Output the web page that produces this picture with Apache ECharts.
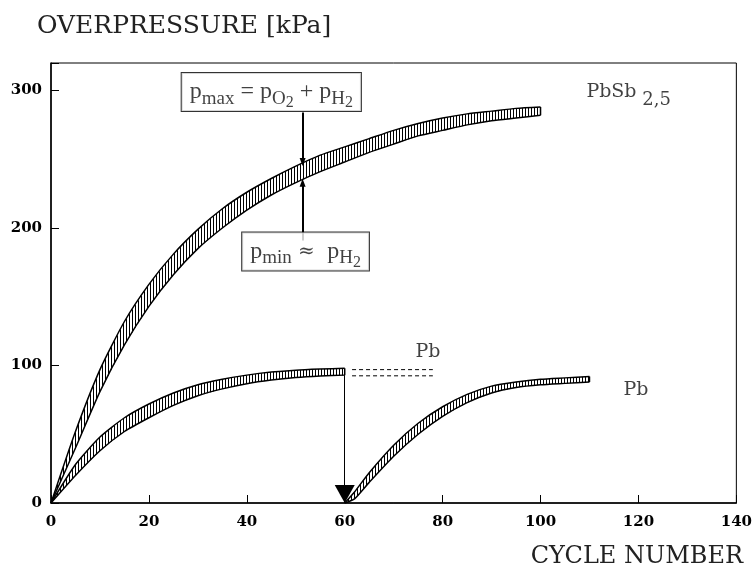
<!DOCTYPE html>
<html>
<head>
<meta charset="utf-8">
<script src="https://cdn.jsdelivr.net/npm/echarts@6/dist/echarts.min.js"></script>
<style>html,body{margin:0;padding:0;background:#fff}#c{width:755px;height:571px}</style>
</head>
<body>
<div id="c"></div>
<script>
// ---- data ----
const xTicks = [0, 20, 40, 60, 80, 100, 120, 140];
const yTicks = [0, 100, 200, 300];
// PbSb 2,5 band (pmax upper, pmin lower)
const sbX     = [0, 5, 10, 15, 20, 25, 30, 35, 40, 45, 50, 55, 60, 65, 70, 75, 80, 85, 90, 95, 100];
const sbUpper = [0, 52, 97, 132, 159, 181, 199, 214, 226, 236, 245, 253, 259, 265, 271, 276, 280, 283, 285, 287, 288];
const sbLower = [0, 40, 81, 115, 143, 166, 185, 200, 213, 224, 233, 241, 248, 255, 261, 267, 271, 275, 278, 280, 282];
// Pb first band
const pb1X     = [0, 5, 10, 15, 20, 25, 30, 35, 40, 45, 50, 55, 60];
const pb1Upper = [0, 28, 48, 62, 72, 80, 86, 90, 93, 95.2, 96.6, 97.4, 98];
const pb1Lower = [0, 20, 38, 52, 62, 71, 78, 83, 86.8, 89.4, 91.2, 92.3, 93];
// Pb second band (after restart at cycle 60)
const pb2X     = [60, 62, 65, 70, 75, 80, 85, 90, 95, 100, 105, 110];
const pb2Upper = [0, 8, 22, 42, 58, 70, 79, 85, 88, 90, 91, 92];
const pb2Lower = [0, 3, 15, 34, 50, 63, 73, 80, 84, 86, 87, 88];
// dashed continuation of Pb
const dashX = [61.5, 78];
const dashY = [97, 92.5];
// text annotation anchors (data coordinates)
const labelPbSb = [118, 299];
const labelPbTop = [77, 110];
const labelPbRight = [119.5, 82];
const boxMax = [45, 299];
const boxMin = [52, 183];
const arrowX = 51.4;
const arrowMax = [284, 248];
const arrowMin = [191, 233];
const dropArrow = [93, 6.5];

// ---- pattern ----
const pc = document.createElement('canvas');
pc.width = 3; pc.height = 3;
const pctx = pc.getContext('2d');
pctx.fillStyle = '#fff'; pctx.fillRect(0, 0, 3, 3);
pctx.fillStyle = '#000'; pctx.fillRect(0, 0, 1, 3);
const hatch = { image: pc, repeat: 'repeat' };

function band(xs, lower, upper) {
  return [
    { type: 'custom', z: 2, data: [[xs[0], lower[0]]], silent: true,
      renderItem: (params, api) => {
        const top = xs.map((x, i) => api.coord([x, upper[i]]));
        const bot = xs.map((x, i) => api.coord([x, lower[i]])).reverse();
        return { type: 'polygon', shape: { points: top.concat(bot) }, style: { fill: hatch, stroke: null } };
      } },
    { type: 'line', smooth: 0.2, symbol: 'none', z: 3,
      data: xs.map((x, i) => [x, lower[i]]), lineStyle: { color: '#000', width: 1.5 } },
    { type: 'line', smooth: 0.2, symbol: 'none', z: 3,
      data: xs.map((x, i) => [x, upper[i]]), lineStyle: { color: '#000', width: 1.5 } },
    { type: 'line', symbol: 'none', z: 3,
      data: [[xs[xs.length - 1], lower[xs.length - 1]], [xs[xs.length - 1], upper[xs.length - 1]]],
      lineStyle: { color: '#000', width: 1.5 } }
  ];
}

const serif = 'DejaVu Serif';
const serif2 = 'Liberation Serif';
function textPoint(pos, text, rich, extra) {
  return {
    value: pos,
    label: Object.assign({ show: true, position: 'inside', formatter: text, color: '#111',
      fontFamily: serif, fontSize: 19, rich: rich }, extra || {})
  };
}
const richBox = {
  b: { fontFamily: serif2, fontSize: 24, color: '#111', lineHeight: 30 },
  e: { fontFamily: serif, fontSize: 20, color: '#111', lineHeight: 30 },
  s: { fontFamily: serif2, fontSize: 19, color: '#111', padding: [14, 0, 0, 0], lineHeight: 30 },
  s2: { fontFamily: serif2, fontSize: 16, color: '#111', padding: [22, 0, 0, 0], lineHeight: 30 }
};
const richSmall = {
  b: { fontFamily: serif, fontSize: 19, color: '#111', lineHeight: 22 },
  s: { fontFamily: serif, fontSize: 18, color: '#111', padding: [16, 0, 0, 0], lineHeight: 22 }
};
const boxStyle = { backgroundColor: '#fff', borderColor: '#000', borderWidth: 1, padding: [4, 8, 4, 8] };

const chart = echarts.init(document.getElementById('c'));
chart.setOption({
  animation: false,
  backgroundColor: '#fff',
  title: [
    { text: 'OVERPRESSURE [kPa]', left: 32, top: 9,
      textStyle: { fontFamily: serif, fontWeight: 'normal', fontSize: 25, color: '#222' } },
    { text: 'CYCLE NUMBER', right: 7, top: 540,
      textStyle: { fontFamily: serif, fontWeight: 'normal', fontSize: 24, color: '#222' } }
  ],
  grid: { left: 51, right: 17, top: 63, bottom: 68, show: true, borderColor: '#000', borderWidth: 1 },
  xAxis: {
    type: 'value', min: xTicks[0], max: xTicks[xTicks.length - 1], interval: 20,
    axisLine: { lineStyle: { color: '#000', width: 1.5 } },
    axisTick: { inside: true, length: 8, lineStyle: { color: '#000' } },
    axisLabel: { fontFamily: serif, fontWeight: 'bold', fontSize: 15, color: '#000', margin: 12 },
    splitLine: { show: false }
  },
  yAxis: {
    type: 'value', min: 0, max: 320, interval: 100,
    axisLine: { show: true, lineStyle: { color: '#000', width: 1.5 } },
    axisTick: { show: true, inside: true, length: 8, lineStyle: { color: '#000' } },
    axisLabel: { fontFamily: serif, fontWeight: 'bold', fontSize: 15, color: '#000', margin: 9,
      formatter: v => (yTicks.indexOf(v) >= 0 ? String(v) : '') },
    splitLine: { show: false }
  },
  series: [
    ...band(sbX, sbLower, sbUpper),
    ...band(pb1X, pb1Lower, pb1Upper),
    ...band(pb2X, pb2Lower, pb2Upper),
    { type: 'line', symbol: 'none', data: dashX.map(x => [x, dashY[0]]),
      lineStyle: { color: '#000', width: 1, type: [4, 3] } },
    { type: 'line', symbol: 'none', data: dashX.map(x => [x, dashY[1]]),
      lineStyle: { color: '#000', width: 1, type: [4, 3] } },
    { type: 'scatter', symbolSize: 0, z: 10, data: [],
      markLine: {
        silent: true, animation: false, label: { show: false },
        data: [
          [{ coord: [arrowX, arrowMax[0]], symbol: 'none' }, { coord: [arrowX, arrowMax[1]], symbol: 'triangle', symbolSize: [6, 8] }],
          [{ coord: [arrowX, arrowMin[0]], symbol: 'none' }, { coord: [arrowX, arrowMin[1]], symbol: 'triangle', symbolSize: [6, 8] }]
        ],
        lineStyle: { color: '#000', width: 2, type: 'solid' }
      } },
    { type: 'scatter', symbolSize: 0, z: 10, data: [],
      markLine: {
        silent: true, animation: false, label: { show: false },
        data: [
          [{ coord: [60, dropArrow[0]], symbol: 'none' }, { coord: [60, dropArrow[1]], symbol: 'triangle', symbolSize: [20, 18] }]
        ],
        lineStyle: { color: '#000', width: 1, type: 'solid' }
      } },
    { type: 'scatter', symbolSize: 0, z: 20,
      data: [
        textPoint(labelPbSb, '{b|PbSb}{s| 2,5}', richSmall),
        textPoint(labelPbTop, 'Pb', null),
        textPoint(labelPbRight, 'Pb', null),
        textPoint(boxMax, '{b|p}{s|max}{b| = p}{s|O}{s2|2}{b| + p}{s|H}{s2|2}', richBox, boxStyle),
        textPoint(boxMin, '{b|p}{s|min}{e| ≈ }{b| p}{s|H}{s2|2}', richBox, boxStyle)
      ] }
  ]
});
</script>
</body>
</html>
